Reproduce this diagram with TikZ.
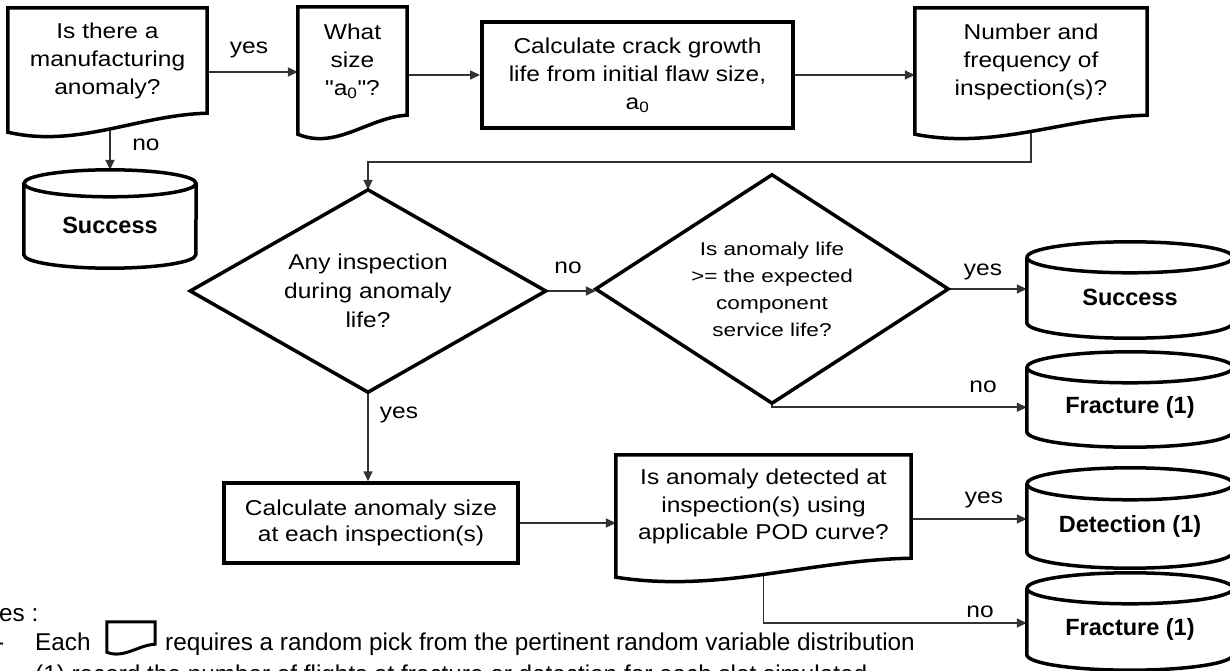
\documentclass[tikz,border=0pt]{standalone}
\usepackage{fontspec}
\setmainfont{Liberation Sans}[FakeStretch=1.14]
\newfontfamily\plainf{Liberation Sans}
\newfontfamily\smallf{Liberation Sans}[FakeStretch=1.22]
\newfontfamily\qfont{Liberation Sans}[FakeStretch=1.14, Ligatures=TeXOff]
\usetikzlibrary{arrows.meta,calc,backgrounds}

\newcommand\docpath[2]{%
  \draw[shapeline, fill=white] let \p1=(#1.south west), \p2=(#1.south east) in
    (#1.north west) -- (#1.north east) -- (\p2)
    .. controls ({\x1+0.65*(\x2-\x1)},{\y2-0.1*#2}) and ({\x1+0.35*(\x2-\x1)},{\y2-1.85*#2}) ..
    (\x1,{\y2-#2}) -- cycle;}
\newcommand\diapath[1]{%
  \draw[shapeline, fill=white] (#1.north) -- (#1.east) -- (#1.south) -- (#1.west) -- cycle;}
\newcommand\cylpath[3]{%
  \draw[shapeline, fill=white] (#1.north west) -- ([yshift=#3]#1.south west)
    arc[start angle=180, end angle=360, x radius=#2, y radius=#3] -- (#1.north east);
  \draw[shapeline, fill=white] (#1.north) ellipse [x radius=#2, y radius=#3];}
\newcommand\sq{{\qfont"}}

\begin{document}
\begin{tikzpicture}[x=1pt, y=-1pt,
  shapeline/.style={line width=3.5pt, line join=miter, draw=black},
  conn/.style={line width=1.6pt, draw=black!80},
  arr/.style={conn, -{Triangle[length=10pt,width=9pt]}},
  mtxt/.style={font=\fontsize{21.5pt}{28pt}\selectfont, align=center, inner sep=0pt},
  stxt/.style={font=\smallf\fontsize{18.5pt}{27pt}\selectfont, align=center, inner sep=0pt},
  btxt/.style={font=\plainf\bfseries\fontsize{23.5pt}{28pt}\selectfont, inner sep=0pt},
  ntxt/.style={font=\plainf\fontsize{24.3pt}{30pt}\selectfont, inner sep=0pt, anchor=base west},
  lbl/.style={font=\fontsize{21.5pt}{28pt}\selectfont, inner sep=0pt},
  rectnode/.style={draw, line width=3.5pt, fill=white},
]
\useasboundingbox (0,0) rectangle (1230,671);
\clip (0,0) rectangle (1230,671);

% nodes
\node[mtxt, minimum width=199pt, minimum height=105pt] (doc1) at (107.5,60.5) {Is there a\\manufacturing\\anomaly?};
\node[mtxt, minimum width=109pt, minimum height=108pt] (doc2) at (352.5,61) {What\\size\\\sq a\textsubscript{0}\sq?};
\node[mtxt, rectnode, line width=4pt, minimum width=311pt, minimum height=106pt] (rect1) at (637.5,75) {Calculate crack growth\\life from initial flaw size,\\a\textsubscript{0}};
\node[mtxt, minimum width=232pt, minimum height=107pt] (doc3) at (1031,61.5) {Number and\\frequency of\\inspection(s)?};
\node[btxt, minimum width=172pt, minimum height=84.5pt] (sucL) at (110,225.75) {Success};
\node[mtxt, font=\fontsize{21.5pt}{29pt}\selectfont, minimum width=355pt, minimum height=202pt] (d1) at (368,291) {Any inspection\\during anomaly\\life?};
\node[stxt, minimum width=352pt, minimum height=228pt] (d2) at (772,289) {Is anomaly life\\>= the expected\\component\\service life?};
\node[btxt, minimum width=206pt, minimum height=80.5pt] (sucR) at (1130,297.75) {Success};
\node[btxt, minimum width=206pt, minimum height=79.5pt] (fr1) at (1130,407.25) {Fracture (1)};
\node[mtxt, font=\fontsize{21.5pt}{26pt}\selectfont, rectnode, minimum width=294pt, minimum height=80pt] (rect2) at (371,523) {Calculate anomaly size\\at each inspection(s)};
\node[mtxt, font=\fontsize{21.5pt}{27.5pt}\selectfont, minimum width=295pt, minimum height=103pt] (doc4) at (763.5,506.5) {Is anomaly detected at\\inspection(s) using\\applicable POD curve?};
\node[btxt, minimum width=206pt, minimum height=84pt] (det) at (1130,526) {Detection (1)};
\node[btxt, minimum width=206pt, minimum height=81.5pt] (fr2) at (1130,629.25) {Fracture (1)};

% labels
\node[lbl] (l1) at (249,50) {yes};
\node[lbl] (l2) at (146,145) {no};
\node[lbl] (l3) at (568,268) {no};
\node[lbl] (l4) at (983,272) {yes};
\node[lbl] (l5) at (983,387) {no};
\node[lbl] (l6) at (399,415) {yes};
\node[lbl] (l7) at (984,500) {yes};
\node[lbl] (l8) at (980,612) {no};

% notes
\node[ntxt] (notes) at (-1,621) {es :};
\node[ntxt] (dash1) at (-4,650) {-};
\node[ntxt] (each) at (35,650) {Each};
\node[minimum width=48pt, minimum height=22pt, inner sep=0pt] (icon) at (131,633) {};
\node[ntxt] (req) at (165,650) {requires a random pick from the pertinent random variable distribution};
\node[ntxt] (dash2) at (-4,682) {-};
\node[ntxt] (rec) at (35,682) {(1) record the number of flights at fracture or detection for each slot simulated};

\begin{pgfonlayer}{background}
\draw[arr] (doc1.east |- 0,72) -- (doc2.west |- 0,72);
\draw[arr] (doc2.east |- rect1.west) -- (rect1.west);
\draw[arr] (rect1.east) -- (rect1.east -| doc3.west);
\draw[arr] (sucL.north |- doc1.south) -- ([yshift=13.5pt]sucL.north);
\draw[arr] (doc3.south) -- (doc3.south |- 0,162) -- (d1.north |- 0,162) -- (d1.north);
\draw[arr] (d1.east) -- (d1.east -| d2.west);
\draw[arr] (d2.east) -- (d2.east -| sucR.west);
\draw[arr] (d2.south) |- (fr1.west);
\draw[arr] (d1.south) -- (d1.south |- rect2.north);
\draw[arr] (rect2.east) -- (rect2.east -| doc4.west);
\draw[arr] (doc4.east |- 0,519) -- (det.west |- 0,519);
\draw[arr] (doc4.south) |- (fr2.west |- 0,623);

\docpath{doc1}{19pt}
\docpath{doc2}{19pt}
\docpath{doc3}{19pt}
\docpath{doc4}{19pt}
\begin{scope}[shapeline/.append style={line width=3pt}]
\docpath{icon}{8pt}
\end{scope}
\diapath{d1}
\diapath{d2}
\cylpath{sucL}{86pt}{13.5pt}
\cylpath{sucR}{103pt}{15.5pt}
\cylpath{fr1}{103pt}{15.5pt}
\cylpath{det}{103pt}{16pt}
\cylpath{fr2}{103pt}{15.5pt}
\end{pgfonlayer}
\end{tikzpicture}
\end{document}
